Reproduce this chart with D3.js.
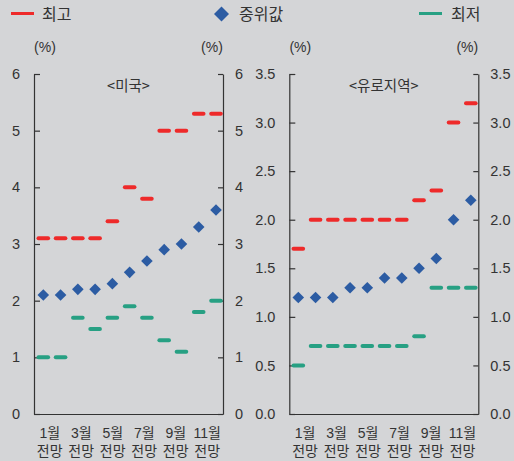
<!DOCTYPE html>
<html><head><meta charset="utf-8">
<script src="https://cdnjs.cloudflare.com/ajax/libs/d3/7.8.5/d3.min.js"></script>
<style>
html,body{margin:0;padding:0;background:#d4d5d7;}
svg{display:block;}
text{font-family:"Liberation Sans",Arial,sans-serif;fill:#333;}
.kr{font-family:"Noto Sans CJK KR","Noto Sans",sans-serif;}
.krx{font-family:"Liberation Sans","Noto Sans CJK KR",sans-serif;}
</style></head><body>
<script>
const months = ["1월","2월","3월","4월","5월","6월","7월","8월","9월","10월","11월"];
const xTickLabels = ["1월","3월","5월","7월","9월","11월"];
const xTickSub = "전망";
const usHigh = [3.1,3.1,3.1,3.1,3.4,4.0,3.8,5.0,5.0,5.3,5.3];
const usMedian = [2.1,2.1,2.2,2.2,2.3,2.5,2.7,2.9,3.0,3.3,3.6];
const usLow = [1.0,1.0,1.7,1.5,1.7,1.9,1.7,1.3,1.1,1.8,2.0];
const euHigh = [1.7,2.0,2.0,2.0,2.0,2.0,2.0,2.2,2.3,3.0,3.2];
const euMedian = [1.2,1.2,1.2,1.3,1.3,1.4,1.4,1.5,1.6,2.0,2.2];
const euLow = [0.5,0.7,0.7,0.7,0.7,0.7,0.7,0.8,1.3,1.3,1.3];
const usTicks = [0,1,2,3,4,5,6];
const euTicks = [0,0.5,1.0,1.5,2.0,2.5,3.0,3.5];
const legendLabels = ["최고","중위값","최저"];

const W=514,H=461;
const C={high:"#ee2a2a",median:"#2c5ca3",low:"#27a083",axis:"#333"};
const svg=d3.select("body").append("svg").attr("width",W).attr("height",H);
svg.append("rect").attr("width",W).attr("height",H).attr("fill","#d4d5d7");

function diamondPath(s){return `M0,${-s}L${s},0L0,${s}L${-s},0Z`;}

// legend
const lg=svg.append("g");
lg.append("line").attr("x1",11).attr("x2",34).attr("y1",13.5).attr("y2",13.5).attr("stroke",C.high).attr("stroke-width",3);
lg.append("text").attr("class","kr").attr("x",42).attr("y",19.5).attr("font-size",16).text(legendLabels[0]);
lg.append("path").attr("d",diamondPath(7.5)).attr("transform","translate(221.5,14)").attr("fill",C.median);
lg.append("text").attr("class","kr").attr("x",239).attr("y",19.5).attr("font-size",16).text(legendLabels[1]);
lg.append("line").attr("x1",419).attr("x2",442).attr("y1",13.5).attr("y2",13.5).attr("stroke",C.low).attr("stroke-width",3);
lg.append("text").attr("class","kr").attr("x",451).attr("y",19.5).attr("font-size",16).text(legendLabels[2]);

const yTop=74,yBot=414;

function panel(x0,x1,title,high,med,low,ticks,ymax,fmt,padL,padR){
  const g=svg.append("g");
  const y=d3.scaleLinear().domain([0,ymax]).range([yBot,yTop]);
  const x=d3.scalePoint().domain(months).range([x0+padL,x1-padR]);
  const xb=d3.scaleBand().domain(xTickLabels).range([x0,x1]);
  // axes
  const la=d3.axisLeft(y).tickValues(ticks).tickFormat(fmt).tickSizeInner(-6).tickSizeOuter(0).tickPadding(14);
  const ra=d3.axisRight(y).tickValues(ticks).tickFormat(fmt).tickSizeInner(-5).tickSizeOuter(0).tickPadding(12);
  const lG=g.append("g").attr("transform",`translate(${x0},0)`).call(la);
  const rG=g.append("g").attr("transform",`translate(${x1},0)`).call(ra);
  [lG,rG].forEach(a=>{
    a.select(".domain").attr("stroke",C.axis).attr("stroke-width",1.2);
    a.selectAll(".tick line").attr("stroke",C.axis).attr("stroke-width",1.2);
    a.selectAll(".tick text").attr("font-size",14.5).attr("fill","#333").attr("font-family","Liberation Sans, Arial, sans-serif");
  });
  // bottom axis
  const bx=d3.axisBottom(xb).tickSize(0).tickFormat(()=> "");
  const bG=g.append("g").attr("transform",`translate(0,${yBot})`).call(bx);
  bG.select(".domain").attr("stroke",C.axis).attr("stroke-width",1.2);
  const cx=d=>xb(d)+xb.bandwidth()/2;
  g.selectAll(null).data(xTickLabels).enter().append("text").attr("class","krx")
    .attr("text-anchor","middle").attr("font-size",14).attr("x",cx).attr("y",437.5).text(d=>d);
  g.selectAll(null).data(xTickLabels).enter().append("text").attr("class","krx")
    .attr("text-anchor","middle").attr("font-size",14).attr("x",cx).attr("y",455.5).text(xTickSub);
  // (%) labels
  g.append("text").attr("x",x0+11).attr("y",52).attr("text-anchor","middle").attr("font-size",14).text("(%)");
  g.append("text").attr("x",x1-11).attr("y",52).attr("text-anchor","middle").attr("font-size",14).text("(%)");
  // title
  g.append("text").attr("class","kr").attr("x",(x0+x1)/2).attr("y",91).attr("text-anchor","middle").attr("font-size",14.5).text(title);
  // dashes
  const half=4.8;
  function dashes(data,col){
    g.selectAll(null).data(data).enter().append("line")
      .attr("x1",(d,i)=>x(months[i])-half).attr("x2",(d,i)=>x(months[i])+half)
      .attr("y1",d=>y(d)).attr("y2",d=>y(d))
      .attr("stroke",col).attr("stroke-width",4).attr("stroke-linecap","round");
  }
  dashes(high,C.high);
  dashes(low,C.low);
  g.selectAll(null).data(med).enter().append("path").attr("d",diamondPath(5.8))
    .attr("transform",(d,i)=>`translate(${x(months[i])},${y(d)})`).attr("fill",C.median);
}
panel(34,223,"<미국>",usHigh,usMedian,usLow,usTicks,6,d3.format("d"),9.3,7);
panel(289.3,478.3,"<유로지역>",euHigh,euMedian,euLow,euTicks,3.5,d3.format(".1f"),9,7.5);
</script></body></html>
